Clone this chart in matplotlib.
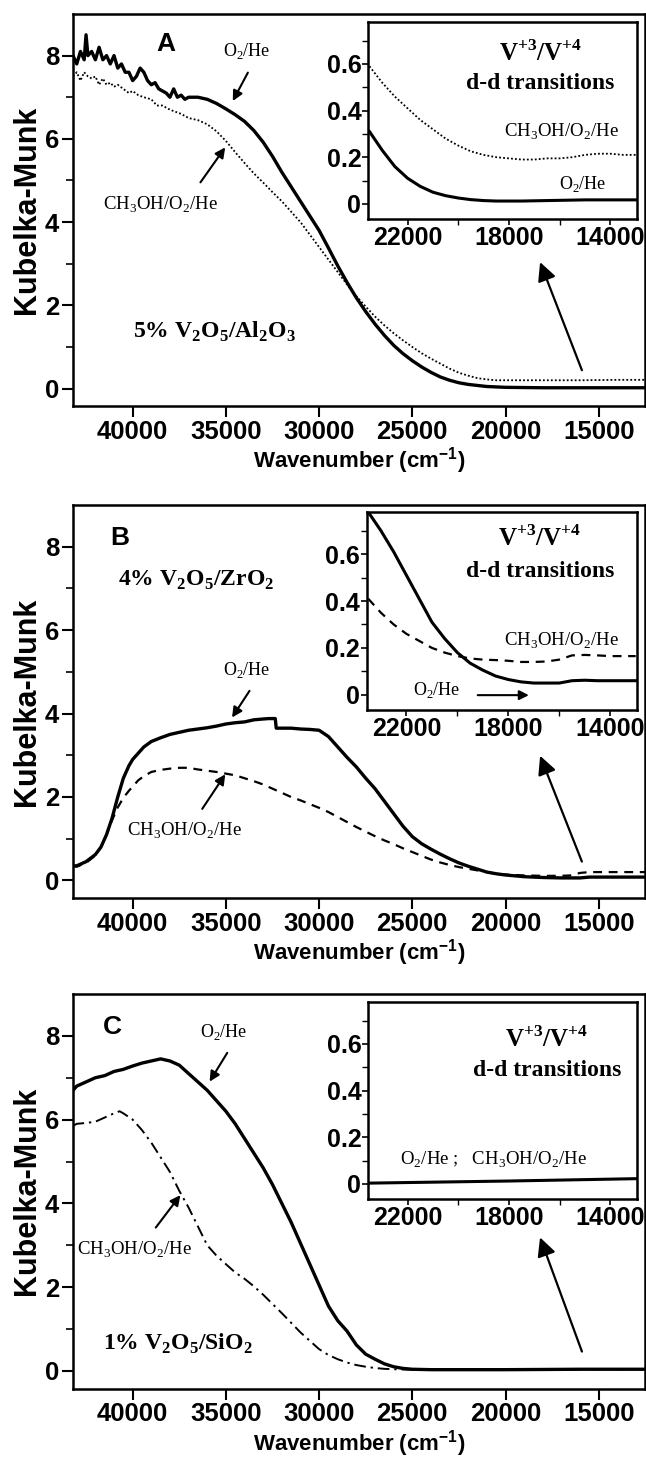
import numpy as np
import matplotlib
matplotlib.use("Agg")
import matplotlib.pyplot as plt

plt.rcParams['font.family'] = ['Liberation Sans', 'DejaVu Sans']
plt.rcParams['mathtext.fontset'] = 'custom'
plt.rcParams['mathtext.rm'] = 'Liberation Serif'
plt.rcParams['mathtext.bf'] = 'Liberation Serif:bold'
plt.rcParams['mathtext.sf'] = 'Liberation Sans:bold'
plt.rcParams['axes.linewidth'] = 1.8

SERIF = 'Liberation Serif'

# ---- panel A : 5% V2O5/Al2O3 ----
a_wn_o2 = [43200, 43000, 42800, 42600, 42500, 42400, 42200, 42000, 41800, 41600, 41400, 41200,
           41000, 40800, 40600, 40400, 40200, 40000, 39800, 39600, 39400, 39200, 39000, 38800,
           38600, 38400, 38200, 38000, 37800, 37600, 37400, 37200, 37000, 36500, 36000, 35500,
           35000, 34500, 34000, 33500, 33000, 32500, 32000, 31500, 31000, 30500, 30000, 29500,
           29000, 28500, 28000, 27500, 27000, 26500, 26000, 25500, 25000, 24500, 24000, 23500,
           23000, 22500, 22000, 21000, 20000, 18000, 16000, 14000, 12500]
a_o2 = [8.0, 7.8, 8.1, 7.9, 8.5, 8.0, 8.1, 7.9, 8.2, 7.9, 8.0, 7.8,
        8.0, 7.7, 7.8, 7.6, 7.6, 7.4, 7.5, 7.7, 7.6, 7.4, 7.3, 7.35,
        7.2, 7.15, 7.1, 7.0, 7.2, 7.0, 7.05, 6.95, 7.0, 7.0, 6.95, 6.85,
        6.72, 6.58, 6.42, 6.2, 5.92, 5.58, 5.2, 4.85, 4.5, 4.15, 3.8, 3.38,
        2.95, 2.55, 2.18, 1.85, 1.55, 1.28, 1.04, 0.84, 0.67, 0.52, 0.39, 0.28,
        0.2, 0.14, 0.1, 0.05, 0.03, 0.02, 0.02, 0.02, 0.02]
a_wn_meoh = [43200, 43000, 42800, 42600, 42400, 42200, 42000, 41800, 41600, 41400, 41200, 41000,
             40800, 40500, 40200, 40000, 39700, 39400, 39000, 38700, 38400, 38000, 37700, 37400,
             37000, 36500, 36000, 35500, 35000, 34500, 34000, 33500, 33000, 32500, 32000, 31500,
             31000, 30500, 30000, 29500, 29000, 28500, 28000, 27500, 27000, 26500, 26000, 25500,
             25000, 24500, 24000, 23500, 23000, 22500, 22000, 21500, 21000, 20500, 20000, 18000,
             16000, 14000, 12500]
a_meoh = [7.5, 7.6, 7.4, 7.6, 7.5, 7.45, 7.5, 7.3, 7.45, 7.3, 7.35, 7.25,
          7.3, 7.2, 7.1, 7.15, 7.05, 7.0, 6.95, 6.8, 6.8, 6.7, 6.65, 6.6,
          6.5, 6.45, 6.35, 6.18, 5.95, 5.68, 5.42, 5.17, 4.95, 4.72, 4.5, 4.25,
          4.0, 3.7, 3.4, 3.1, 2.8, 2.5, 2.22, 1.97, 1.73, 1.52, 1.33, 1.16,
          1.0, 0.85, 0.72, 0.6, 0.48, 0.38, 0.31, 0.25, 0.22, 0.2, 0.2, 0.2,
          0.2, 0.21, 0.21]

ins_wn = [23500, 23000, 22500, 22000, 21500, 21000, 20500, 20000, 19500, 19000, 18500,
          18000, 17500, 17000, 16500, 16000, 15500, 15000, 14500, 14000, 13500, 13000]
ia_meoh = [0.59, 0.52, 0.46, 0.41, 0.36, 0.32, 0.28, 0.25, 0.225, 0.21, 0.2,
           0.195, 0.19, 0.19, 0.195, 0.195, 0.2, 0.21, 0.215, 0.215, 0.21, 0.21]
ia_o2 = [0.31, 0.23, 0.16, 0.11, 0.075, 0.05, 0.035, 0.025, 0.018, 0.014, 0.012,
         0.012, 0.012, 0.013, 0.014, 0.015, 0.016, 0.017, 0.017, 0.017, 0.017, 0.017]

# ---- panel B : 4% V2O5/ZrO2 ----
b_wn_o2 = [43200, 43000, 42500, 42000, 41700, 41400, 41100, 40800, 40500, 40200, 40000, 39700,
           39400, 39000, 38500, 38000, 37500, 37000, 36500, 36000, 35500, 35000, 34500, 34000,
           33500, 33000, 32700, 32350, 32300, 31500, 31000, 30500, 30000, 29500, 29000, 28500,
           28000, 27500, 27000, 26500, 26000, 25500, 25000, 24500, 24000, 23500, 23000, 22500,
           22000, 21500, 21000, 20500, 20000, 19000, 18000, 17000, 16000, 15500, 14000, 12500]
b_o2 = [0.35, 0.35, 0.45, 0.62, 0.8, 1.1, 1.5, 2.0, 2.45, 2.75, 2.9, 3.05,
        3.2, 3.33, 3.42, 3.5, 3.55, 3.6, 3.63, 3.66, 3.7, 3.75, 3.78, 3.8,
        3.85, 3.87, 3.88, 3.88, 3.65, 3.65, 3.63, 3.62, 3.6, 3.45, 3.2, 2.95,
        2.72, 2.45, 2.2, 1.9, 1.6, 1.3, 1.05, 0.88, 0.75, 0.63, 0.52, 0.42,
        0.34, 0.27, 0.2, 0.16, 0.13, 0.09, 0.07, 0.06, 0.06, 0.08, 0.08, 0.08]
b_wn_meoh = [43200, 43000, 42500, 42000, 41700, 41400, 41100, 40800, 40500, 40200, 40000, 39700,
             39400, 39000, 38500, 38000, 37500, 37000, 36500, 36000, 35500, 35000, 34500, 34000,
             33500, 33000, 32500, 32000, 31500, 31000, 30500, 30000, 29500, 29000, 28500, 28000,
             27500, 27000, 26500, 26000, 25500, 25000, 24500, 24000, 23500, 23000, 22500, 22000,
             21500, 21000, 20500, 20000, 19000, 18000, 17000, 16500, 16000, 15500, 14000, 12500]
b_meoh = [0.35, 0.33, 0.42, 0.6, 0.8, 1.1, 1.45, 1.75, 1.98, 2.15, 2.25, 2.4,
          2.5, 2.6, 2.65, 2.68, 2.7, 2.7, 2.66, 2.63, 2.6, 2.56, 2.52, 2.45,
          2.38, 2.3, 2.2, 2.1, 2.0, 1.92, 1.83, 1.74, 1.64, 1.52, 1.4, 1.28,
          1.17, 1.06, 0.96, 0.87, 0.77, 0.68, 0.59, 0.5, 0.43, 0.37, 0.32, 0.28,
          0.24, 0.2, 0.16, 0.14, 0.12, 0.11, 0.11, 0.12, 0.18, 0.2, 0.2, 0.2]

ib_o2 = [0.78, 0.70, 0.61, 0.51, 0.41, 0.31, 0.24, 0.18, 0.135, 0.105, 0.08,
         0.065, 0.055, 0.05, 0.05, 0.05, 0.06, 0.062, 0.06, 0.06, 0.06, 0.06]
ib_meoh = [0.41, 0.35, 0.3, 0.26, 0.23, 0.2, 0.18, 0.165, 0.155, 0.15, 0.148,
           0.145, 0.14, 0.14, 0.142, 0.15, 0.168, 0.17, 0.168, 0.165, 0.165, 0.165]

# ---- panel C : 1% V2O5/SiO2 ----
c_wn_o2 = [43200, 43000, 42500, 42000, 41500, 41000, 40500, 40000, 39500, 39000, 38500, 38000,
           37500, 37000, 36500, 36000, 35500, 35000, 34500, 34000, 33500, 33000, 32500, 32000,
           31500, 31000, 30500, 30000, 29500, 29000, 28500, 28000, 27500, 27000, 26500, 26000,
           25500, 25000, 24000, 20000, 16000, 12500]
c_o2 = [6.7, 6.8, 6.9, 7.0, 7.05, 7.15, 7.2, 7.28, 7.35, 7.4, 7.45, 7.4,
        7.3, 7.1, 6.9, 6.7, 6.45, 6.2, 5.9, 5.55, 5.2, 4.85, 4.45, 4.0,
        3.55, 3.05, 2.55, 2.05, 1.55, 1.2, 0.95, 0.62, 0.4, 0.28, 0.17, 0.1,
        0.06, 0.04, 0.03, 0.03, 0.04, 0.04]
c_wn_meoh = [43200, 43000, 42500, 42000, 41500, 41000, 40700, 40500, 40000, 39500, 39000, 38500,
             38000, 37500, 37000, 36500, 36000, 35500, 35000, 34500, 34000, 33500, 33000, 32500,
             32000, 31500, 31000, 30500, 30000, 29500, 29000, 28500, 28000, 27500, 27000, 26500,
             26000, 25000, 20000, 16000, 12500]
c_meoh = [5.85, 5.9, 5.92, 5.95, 6.05, 6.15, 6.2, 6.15, 6.0, 5.75, 5.45, 5.1,
          4.75, 4.3, 3.9, 3.45, 3.0, 2.75, 2.55, 2.35, 2.2, 2.02, 1.82, 1.6,
          1.38, 1.15, 0.92, 0.72, 0.52, 0.38, 0.28, 0.2, 0.14, 0.1, 0.07, 0.05,
          0.04, 0.03, 0.03, 0.04, 0.04]

ic_wn = [23500, 18000, 13000]
ic_both = [0.003, 0.012, 0.022]

main_xticks = [40000, 35000, 30000, 25000, 20000, 15000]
main_yticks = [0, 2, 4, 6, 8]
ins_xticks = [22000, 18000, 14000]
ins_yticks = [0, 0.2, 0.4, 0.6]
ins_ylabels = ["0", "0.2", "0.4", "0.6"]

lab_o2 = "O$_2$/He"
lab_meoh = "CH$_3$OH/O$_2$/He"


def style_main(ax):
    ax.set_xlim(43200, 12500)
    ax.set_ylim(-0.42, 9.0)
    ax.set_xticks(main_xticks)
    ax.set_xticklabels([str(t) for t in main_xticks])
    ax.set_yticks(main_yticks)
    ax.set_yticks([1, 3, 5, 7], minor=True)
    ax.tick_params(axis='both', which='major', direction='out', length=8, width=1.5,
                   labelsize=18.5, pad=2)
    ax.tick_params(axis='y', which='minor', direction='out', length=5, width=1.2)
    for lb in ax.get_xticklabels() + ax.get_yticklabels():
        lb.set_fontweight('bold')
    ax.set_xlabel("Wavenumber (cm$^{\\mathsf{-1}}$)", fontsize=16, fontweight='bold', labelpad=1)
    ax.set_ylabel("Kubelka-Munk", fontsize=22, fontweight='bold', labelpad=2)


def style_inset(ax):
    ax.set_xlim(23550, 12950)
    ax.set_ylim(-0.065, 0.78)
    ax.set_xticks(ins_xticks)
    ax.set_xticks([20000, 16000], minor=True)
    ax.set_yticks(ins_yticks)
    ax.set_yticklabels(ins_ylabels)
    ax.set_yticks([0.1, 0.3, 0.5, 0.7], minor=True)
    ax.tick_params(axis='both', which='major', direction='out', length=4, width=1.2,
                   labelsize=18, pad=1)
    ax.tick_params(axis='both', which='minor', direction='out', length=4, width=1.0)
    for lb in ax.get_xticklabels() + ax.get_yticklabels():
        lb.set_fontweight('bold')
    ax.set_facecolor('white')
    ax.text(0.64, 0.84, "V$^{\\mathbf{+3}}$/V$^{\\mathbf{+4}}$", transform=ax.transAxes,
            ha='center', va='center', family=SERIF, fontweight='bold', fontsize=18)
    ax.text(0.64, 0.69, "d-d transitions", transform=ax.transAxes,
            ha='center', va='center', family=SERIF, fontweight='bold', fontsize=17)


fig = plt.figure(figsize=(6.46, 14.57), dpi=100)

bottoms = [0.7213, 0.3837, 0.047]
axA = fig.add_axes([0.113, bottoms[0], 0.886, 0.2691])
axB = fig.add_axes([0.113, bottoms[1], 0.886, 0.2697])
axC = fig.add_axes([0.113, bottoms[2], 0.886, 0.2708])
insA = fig.add_axes([0.570, 0.8497, 0.416, 0.1352])
insB = fig.add_axes([0.568, 0.5127, 0.418, 0.1359])
insC = fig.add_axes([0.570, 0.1771, 0.416, 0.1352])

# ---------- A ----------
axA.plot(a_wn_meoh, a_meoh, color='black', lw=1.3, ls=(0, (1, 1.2)))
axA.plot(a_wn_o2, a_o2, color='black', lw=2.4)
style_main(axA)
axA.text(38200, 8.27, "A", fontsize=19, fontweight='bold', ha='center', va='center')
axA.text(35600, 1.35, "5% V$_\\mathbf{2}$O$_\\mathbf{5}$/Al$_\\mathbf{2}$O$_\\mathbf{3}$",
         family=SERIF, fontweight='bold', fontsize=17, ha='center', va='center')
axA.text(33900, 8.1, lab_o2, family=SERIF, fontsize=13, ha='center', va='center')
axA.annotate("", xy=(34700, 6.85), xytext=(33750, 7.65),
             arrowprops=dict(arrowstyle='-|>', color='black', lw=1.5, mutation_scale=15))
axA.text(38500, 4.42, lab_meoh, family=SERIF, fontsize=13.5, ha='center', va='center')
axA.annotate("", xy=(34950, 5.85), xytext=(36450, 4.9),
             arrowprops=dict(arrowstyle='-|>', color='black', lw=1.5, mutation_scale=15))
axA.annotate("", xy=(18200, 3.1), xytext=(15850, 0.38),
             arrowprops=dict(arrowstyle='-|>', color='black', lw=1.6, mutation_scale=28))

insA.plot(ins_wn, ia_meoh, color='black', lw=1.3, ls=(0, (1, 1.2)))
insA.plot(ins_wn, ia_o2, color='black', lw=2.2)
style_inset(insA)
insA.text(0.72, 0.44, lab_meoh, transform=insA.transAxes, family=SERIF, fontsize=13.5,
          ha='center', va='center')
insA.text(0.80, 0.18, lab_o2, transform=insA.transAxes, family=SERIF, fontsize=13,
          ha='center', va='center')

# ---------- B ----------
axB.plot(b_wn_meoh, b_meoh, color='black', lw=1.6, ls=(0, (4, 3)))
axB.plot(b_wn_o2, b_o2, color='black', lw=2.4)
style_main(axB)
axB.text(40700, 8.2, "B", fontsize=19, fontweight='bold', ha='center', va='center')
axB.text(36600, 7.2, "4% V$_\\mathbf{2}$O$_\\mathbf{5}$/ZrO$_\\mathbf{2}$",
         family=SERIF, fontweight='bold', fontsize=17, ha='center', va='center')
axB.text(33900, 5.04, lab_o2, family=SERIF, fontsize=13, ha='center', va='center')
axB.annotate("", xy=(34750, 3.85), xytext=(33650, 4.6),
             arrowprops=dict(arrowstyle='-|>', color='black', lw=1.5, mutation_scale=15))
axB.text(37200, 1.18, lab_meoh, family=SERIF, fontsize=13.5, ha='center', va='center')
axB.annotate("", xy=(34950, 2.6), xytext=(36350, 1.66),
             arrowprops=dict(arrowstyle='-|>', color='black', lw=1.5, mutation_scale=15))
axB.annotate("", xy=(18200, 3.05), xytext=(15850, 0.39),
             arrowprops=dict(arrowstyle='-|>', color='black', lw=1.6, mutation_scale=28))

insB.plot(ins_wn, ib_meoh, color='black', lw=1.6, ls=(0, (4, 3)))
insB.plot(ins_wn, ib_o2, color='black', lw=2.2)
style_inset(insB)
insB.texts[0].set_position((0.64, 0.87))
insB.texts[1].set_position((0.64, 0.70))
insB.text(0.72, 0.35, lab_meoh, transform=insB.transAxes, family=SERIF, fontsize=13.5,
          ha='center', va='center')
insB.text(0.26, 0.10, lab_o2, transform=insB.transAxes, family=SERIF, fontsize=13,
          ha='center', va='center')
insB.annotate("", xy=(0.61, 0.075), xytext=(0.40, 0.075), xycoords='axes fraction',
              arrowprops=dict(arrowstyle='-|>', color='black', lw=1.5, mutation_scale=14))

# ---------- C ----------
axC.plot(c_wn_meoh, c_meoh, color='black', lw=1.4, ls=(0, (6, 2.5, 1.2, 2.5)))
axC.plot(c_wn_o2, c_o2, color='black', lw=2.4)
style_main(axC)
axC.text(41100, 8.2, "C", fontsize=19, fontweight='bold', ha='center', va='center')
axC.text(37600, 0.65, "1% V$_\\mathbf{2}$O$_\\mathbf{5}$/SiO$_\\mathbf{2}$",
         family=SERIF, fontweight='bold', fontsize=17, ha='center', va='center')
axC.text(35100, 8.1, lab_o2, family=SERIF, fontsize=13, ha='center', va='center')
axC.annotate("", xy=(35950, 6.85), xytext=(34850, 7.65),
             arrowprops=dict(arrowstyle='-|>', color='black', lw=1.5, mutation_scale=15))
axC.text(39900, 2.9, lab_meoh, family=SERIF, fontsize=13.5, ha='center', va='center')
axC.annotate("", xy=(37350, 4.25), xytext=(38850, 3.37),
             arrowprops=dict(arrowstyle='-|>', color='black', lw=1.5, mutation_scale=15))
axC.annotate("", xy=(18200, 3.25), xytext=(15850, 0.4),
             arrowprops=dict(arrowstyle='-|>', color='black', lw=1.6, mutation_scale=28))

insC.plot(ic_wn, ic_both, color='black', lw=2.2)
style_inset(insC)
insC.texts[0].set_position((0.665, 0.81))
insC.texts[1].set_position((0.665, 0.65))
insC.text(0.465, 0.20, "O$_2$/He ;   " + lab_meoh, transform=insC.transAxes, family=SERIF,
          fontsize=13.5, ha='center', va='center')

plt.savefig("out.png", dpi=100)
plt.close()
